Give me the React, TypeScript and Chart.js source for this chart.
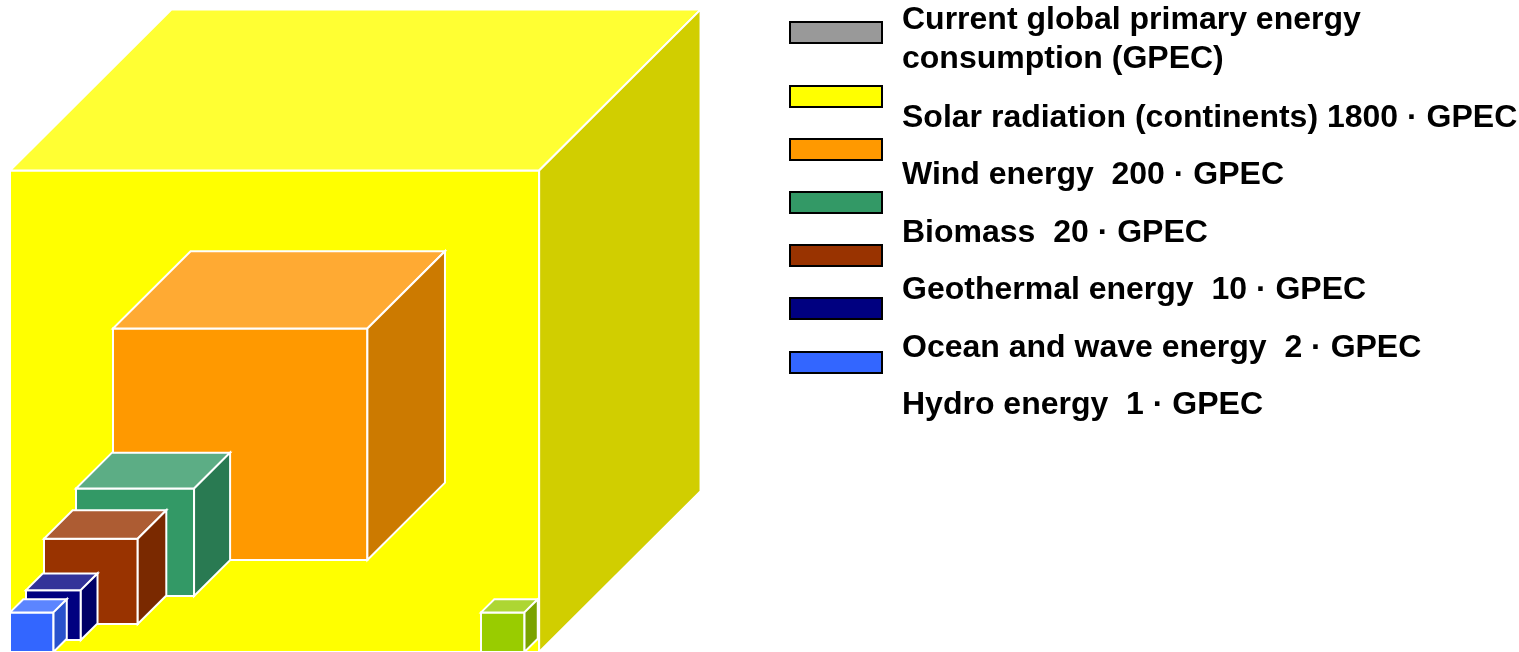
import React, { useEffect, useRef } from 'react';
import { Chart, registerables } from 'chart.js';

Chart.register(...registerables);

// ---- data ----
const sourceNames = [
  'Current global primary energy consumption (GPEC)',
  'Solar radiation (continents)',
  'Wind energy',
  'Biomass',
  'Geothermal energy',
  'Ocean and wave energy',
  'Hydro energy',
];
const gpecMultiples = [1, 1800, 200, 20, 10, 2, 1];
const valueSeparators = ['', ' ', '  ', '  ', '  ', '  ', '  '];
const firstLabelLines = ['Current global primary energy', 'consumption (GPEC)'];

// ---- styles ----
const cubeFrontColors = ['#99CC00', '#FFFF00', '#FF9900', '#339966', '#993300', '#000080', '#3366FF'];
const cubeTopColors = ['#ADD633', '#FFFF33', '#FFAA33', '#5CAD85', '#AD5C33', '#333399', '#5C85FF'];
const cubeSideColors = ['#7AA300', '#D1CE00', '#CC7A00', '#297A52', '#7A2900', '#000066', '#2952CC'];
const legendBoxColors = ['#999999', '#FFFF00', '#FF9900', '#339966', '#993300', '#000080', '#3366FF'];

// ---- layout (chart units; y measured upwards from the bottom) ----
const CUBE_UNIT = 43.5; // edge of a 1-GPEC cube
const HEIGHT_RATIO = 0.91;
const DEPTH_X = 0.305;
const DEPTH_Y = 0.304;
const cubeAnchors: [number, number][] = [
  [481, 0],
  [10, 0],
  [113, 92],
  [76, 56],
  [44, 28],
  [26, 12],
  [10, 0],
];
const legendBoxLeft = 790;
const legendBoxWidth = 92;
const legendBoxHeight = 21;
const legendBoxTops = [22, 86, 139, 192, 245, 298, 352];
const legendTextLeft = 902;
const legendBaselines = [[29, 68], [127], [184], [242], [299], [357], [414]];
const FONT = 'bold 32px "Liberation Sans", Arial, sans-serif';

const W = 1519;
const H = 652;

const cubePlugin = {
  id: 'cubes',
  beforeDatasetsDraw(chart: any) {
    const { ctx } = chart;
    const xs = chart.scales.x;
    const ys = chart.scales.y;
    const px = (v: number) => xs.getPixelForValue(v);
    const py = (v: number) => ys.getPixelForValue(v);
    const order = gpecMultiples
      .map((v, i) => ({ v, i }))
      .sort((a, b) => b.v - a.v || a.i - b.i);
    ctx.save();
    ctx.lineJoin = 'miter';
    for (const { v, i } of order) {
      const w = CUBE_UNIT * Math.cbrt(v);
      const h = w * HEIGHT_RATIO;
      const dx = w * DEPTH_X;
      const dy = w * DEPTH_Y;
      const [x0, y0] = cubeAnchors[i];
      const faces: [string, [number, number][]][] = [
        [cubeFrontColors[i], [[x0, y0], [x0 + w, y0], [x0 + w, y0 + h], [x0, y0 + h]]],
        [cubeTopColors[i], [[x0, y0 + h], [x0 + w, y0 + h], [x0 + w + dx, y0 + h + dy], [x0 + dx, y0 + h + dy]]],
        [cubeSideColors[i], [[x0 + w, y0], [x0 + w + dx, y0 + dy], [x0 + w + dx, y0 + h + dy], [x0 + w, y0 + h]]],
      ];
      for (const [color, pts] of faces) {
        ctx.beginPath();
        pts.forEach(([a, b], k) => (k ? ctx.lineTo(px(a), py(b)) : ctx.moveTo(px(a), py(b))));
        ctx.closePath();
        ctx.fillStyle = color;
        ctx.fill();
        ctx.strokeStyle = '#FFFFFF';
        ctx.lineWidth = 2;
        ctx.stroke();
      }
    }
    ctx.restore();
  },
  afterDraw(chart: any) {
    const { ctx } = chart;
    ctx.save();
    legendBoxColors.forEach((c, i) => {
      const top = legendBoxTops[i];
      ctx.fillStyle = 'rgba(0,0,0,0.25)';
      ctx.fillRect(legendBoxLeft + 1, top + 1, legendBoxWidth, legendBoxHeight);
      ctx.fillStyle = c;
      ctx.fillRect(legendBoxLeft, top, legendBoxWidth, legendBoxHeight);
      ctx.strokeStyle = '#000000';
      ctx.lineWidth = 2;
      ctx.strokeRect(legendBoxLeft, top, legendBoxWidth, legendBoxHeight);
    });
    ctx.fillStyle = '#000000';
    ctx.font = FONT;
    ctx.textBaseline = 'alphabetic';
    ctx.textAlign = 'left';
    sourceNames.forEach((name, i) => {
      const lines =
        i === 0 ? firstLabelLines : [`${name}${valueSeparators[i]}${gpecMultiples[i]} · GPEC`];
      lines.forEach((t, k) => ctx.fillText(t, legendTextLeft, legendBaselines[i][k]));
    });
    ctx.restore();
  },
};

export default function App() {
  const ref = useRef<HTMLCanvasElement | null>(null);
  useEffect(() => {
    if (!ref.current) return;
    const chart = new Chart(ref.current, {
      type: 'scatter',
      data: {
        datasets: sourceNames.map((name, i) => ({
          label: name,
          data: [{ x: cubeAnchors[i][0], y: cubeAnchors[i][1] }],
          pointRadius: 0,
          backgroundColor: cubeFrontColors[i],
        })),
      },
      options: {
        animation: false,
        responsive: true,
        maintainAspectRatio: false,
        layout: { padding: 0 },
        events: [],
        scales: {
          x: { type: 'linear', min: 0, max: W, display: false },
          y: { type: 'linear', min: 0, max: H, display: false },
        },
        plugins: { legend: { display: false }, tooltip: { enabled: false } },
      },
      plugins: [cubePlugin],
    });
    return () => chart.destroy();
  }, []);
  return (
    <div style={{ position: 'fixed', left: 0, top: 0, width: W, height: H, background: '#fff' }}>
      <canvas ref={ref} />
    </div>
  );
}
